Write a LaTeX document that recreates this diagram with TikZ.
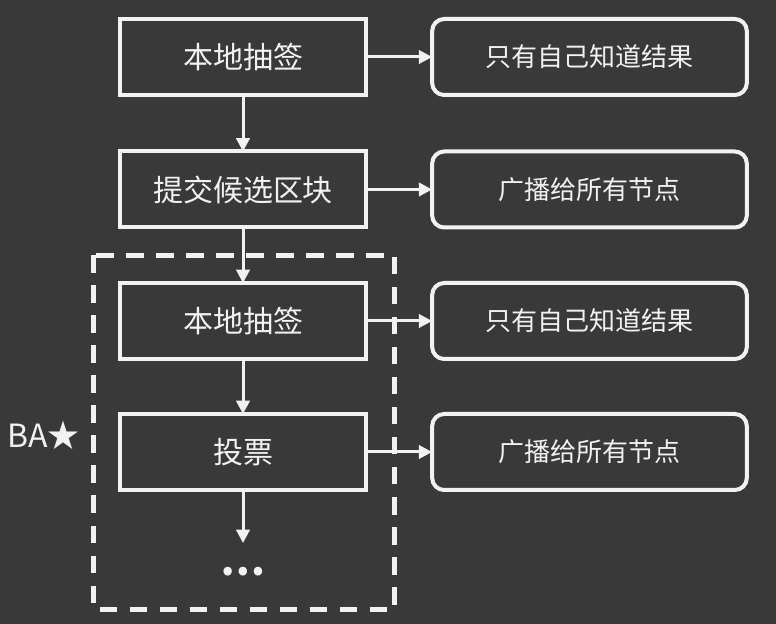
\documentclass[tikz,border=0pt]{standalone}
\usepackage{fontspec}
\setmainfont{Noto Sans CJK SC}
\usetikzlibrary{arrows.meta}
\definecolor{bgdark}{HTML}{393939}
\definecolor{chalk}{HTML}{F2F2F2}
\begin{document}
\begin{tikzpicture}[x=0.75pt,y=-0.75pt,
	stepbox/.style={draw=chalk,line width=3pt,minimum width=184.5pt,minimum height=57pt,inner sep=0pt,outer sep=0pt,text=chalk,font=\fontsize{22.5}{24}\selectfont},
	infobox/.style={draw=chalk,line width=3pt,rounded corners=9pt,minimum width=236pt,minimum height=57pt,inner sep=0pt,outer sep=0pt,text=chalk,font=\fontsize{19.5}{21}\selectfont},
	link/.style={draw=chalk,line width=2.25pt,-{Triangle[length=10pt,width=10pt]}}]
	\fill[bgdark] (0,0) rectangle (776,624); \useasboundingbox (0,0) rectangle (776,624);
	%left column
	\node[stepbox] (draw1) at (243,57) {本地抽签};
	\node[stepbox] (submit) at (243,189.5) {提交候选区块};
	\node[stepbox] (draw2) at (243,321) {本地抽签};
	\node[stepbox] (vote) at (243,452) {投票};
	\node[text=chalk,font=\fontsize{30}{32}\selectfont\bfseries] (dots) at (243,572) {…};
	\coordinate (dotstop) at (243,543);
	%right column
	\node[infobox] (know1) at (589.5,57) {只有自己知道结果};
	\node[infobox] (cast1) at (589.5,189.5) {广播给所有节点};
	\node[infobox] (know2) at (589.5,321) {只有自己知道结果};
	\node[infobox] (cast2) at (589.5,452) {广播给所有节点};
	%BA* frame
	\draw[chalk,line width=3.75pt,dash pattern=on 13pt off 9.5pt] (93.5,255.5) rectangle (394.5,609.5);
	\node[text=chalk,font=\fontsize{24}{26}\selectfont,anchor=west,inner sep=0pt] (ba) at (7,435) {BA★};
	%arrows
	\draw[link] (draw1) -- (submit); \draw[link] (submit) -- (draw2); \draw[link] (draw2) -- (vote); \draw[link] (vote) -- (dotstop);
	\draw[link] (draw1) -- (know1); \draw[link] (submit) -- (cast1); \draw[link] (draw2) -- (know2); \draw[link] (vote) -- (cast2);
\end{tikzpicture}
\end{document}
